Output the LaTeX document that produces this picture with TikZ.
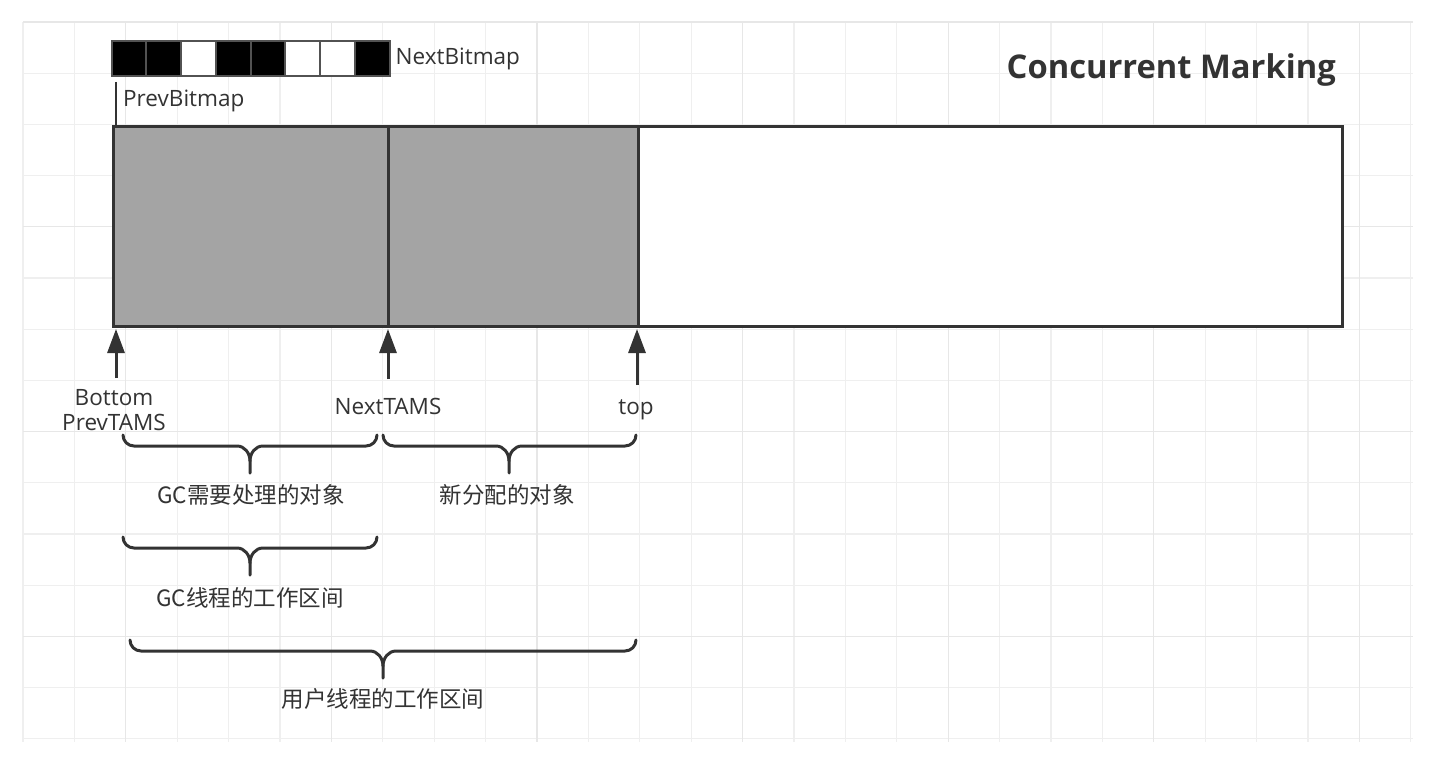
\documentclass[tikz,border=0pt]{standalone}
\usepackage{fontspec}
\setmainfont{Open Sans}
\newfontfamily\cjk{Noto Sans CJK SC}
\usetikzlibrary{arrows.meta}
\definecolor{ink}{HTML}{333333}
\definecolor{regiongray}{HTML}{A4A4A4}
\definecolor{gridminor}{HTML}{EFEFEF}
\definecolor{gridmajor}{HTML}{E7E7E7}

% horizontal curly brace: #1 left x, #2 centre x, #3 right x, #4 top y
\newcommand\curlybrace[4]{%
  \draw[curly] (#1,#4) to[out=-90,in=180] (#1+11,#4+11) -- (#2-13,#4+11)
    to[out=0,in=90] (#2,#4+26) -- (#2,#4+38);
  \draw[curly] (#3,#4) to[out=-90,in=0] (#3-11,#4+11) -- (#2+13,#4+11)
    to[out=180,in=90] (#2,#4+26);
}

\begin{document}
\begin{tikzpicture}[x=1pt,y=-1pt,
  region/.style={draw=ink, line width=3pt, anchor=north west, inner sep=0pt,
    outer sep=0pt, minimum height=199pt},
  bit/.style={draw=ink!85, line width=2pt, anchor=north west, inner sep=0pt,
    outer sep=0pt, minimum width=34.75pt, minimum height=35pt},
  label/.style={text=ink, font=\fontsize{22.5}{25.5}\selectfont, inner sep=0pt},
  cjklabel/.style={text=ink, font=\cjk\fontsize{22.5}{26}\selectfont, inner sep=0pt},
  pointer/.style={draw=ink, line width=3pt, -{Triangle[length=24pt,width=17pt]}},
  curly/.style={draw=ink, line width=3pt, line cap=round, line join=round},
]
\useasboundingbox (0,0) rectangle (1442,762);
\fill[white] (0,0) rectangle (1442,762);

% background grid
\foreach \i in {0,...,27}
  \draw[gridminor, line width=1.3pt] ({23+51.4*\i},22) -- ({23+51.4*\i},742);
\foreach \j in {0,...,14}
  \draw[gridminor, line width=1.3pt] (23,{22+51.2*\j}) -- (1413,{22+51.2*\j});
\foreach \i in {2,6,...,26}
  \draw[gridmajor, line width=1.3pt] ({23+51.4*\i},22) -- ({23+51.4*\i},742);
\foreach \j in {0,4,8,12}
  \draw[gridmajor, line width=1.3pt] (23,{22+51.2*\j}) -- (1413,{22+51.2*\j});

% heap region
\node[region, fill=regiongray, minimum width=275pt] (marked) at (113,127) {};
\node[region, fill=regiongray, minimum width=250pt] (fresh) at (388,127) {};
\node[region, fill=white, minimum width=704pt] (free) at (638,127) {};

% mark bitmap
\foreach \k/\f in {0/black,1/black,2/white,3/black,4/black,5/white,6/white,7/black}
  \node[bit, fill=\f] (bit\k) at ({111.5+34.75*\k},41.5) {};
\node[label, anchor=west] (nextbm) at ([xshift=6pt]bit7.east) {NextBitmap};

\coordinate (prevtop) at (116,82);
\draw[ink, line width=2.5pt] (prevtop) -- (prevtop |- marked.north);
\node[label, anchor=west] (prevbm) at (123,101) {PrevBitmap};

% title
\node[text=ink, font=\bfseries\fontsize{32.7}{38}\selectfont, anchor=east,
  inner sep=0pt] (title) at (1336,70) {Concurrent Marking};

% pointers into the region
\coordinate (bottail) at (116,378);
\coordinate (bothead) at (116,329);
\coordinate (nexttail) at (388,379);
\coordinate (nexthead) at (388,329);
\coordinate (toptail) at (637,385);
\coordinate (tophead) at (637,329);
\draw[pointer] (bottail) -- (bothead);
\draw[pointer] (nexttail) -- (nexthead);
\draw[pointer] (toptail) -- (tophead);

\node[label, align=center] (bottomlbl) at (114,410) {Bottom\\PrevTAMS};
\node[label, anchor=base] (nexttams) at (388,414) {NextTAMS};
\node[label, anchor=base] (toplbl) at (636,414) {top};

% ranges
\curlybrace{123}{250}{377}{435}
\curlybrace{383}{509}{636}{435}
\curlybrace{123}{250}{377}{537}
\curlybrace{130}{383}{636}{640}

\node[cjklabel] (gcobj) at (251,495) {GC需要处理的对象};
\node[cjklabel] (newobj) at (507,495) {新分配的对象};
\node[cjklabel] (gcrange) at (250,598) {GC线程的工作区间};
\node[cjklabel] (userrange) at (383,699) {用户线程的工作区间};
\end{tikzpicture}
\end{document}
